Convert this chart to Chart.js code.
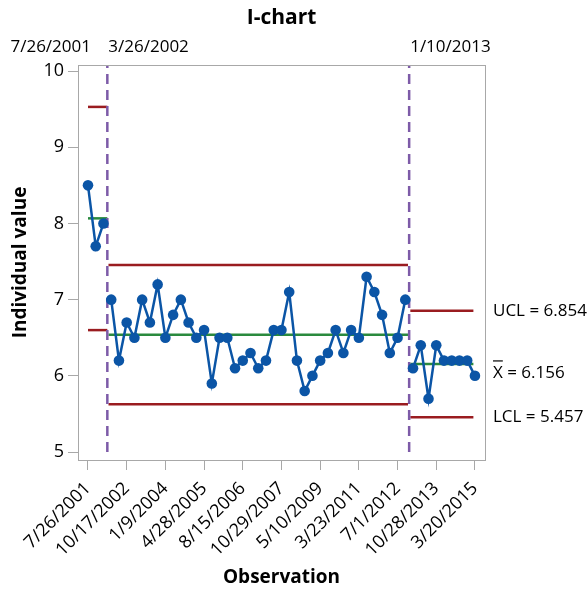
<!DOCTYPE html>
<html>
<head>
<meta charset="utf-8">
<title>I-chart</title>
<script src="https://cdn.jsdelivr.net/npm/chart.js"></script>
<style>
  html, body { margin: 0; padding: 0; background: #fff; }
  #wrap { width: 588px; height: 589px; }
</style>
</head>
<body>
<div id="wrap"><canvas id="ichart"></canvas></div>
<script>
// individual observations, in order
const values = [
  8.5, 7.7, 8.0,
  7.0, 6.2, 6.7, 6.5, 7.0, 6.7, 7.2, 6.5, 6.8, 7.0, 6.7, 6.5, 6.6, 5.9, 6.5, 6.5, 6.1, 6.2,
  6.3, 6.1, 6.2, 6.6, 6.6, 7.1, 6.2, 5.8, 6.0, 6.2, 6.3, 6.6, 6.3, 6.6, 6.5, 7.3, 7.1, 6.8, 6.3, 6.5, 7.0,
  6.1, 6.4, 5.7, 6.4, 6.2, 6.2, 6.2, 6.2, 6.0
];
// date label shown at every 5th observation
const dateLabels = ["7/26/2001", "10/17/2002", "1/9/2004", "4/28/2005", "8/15/2006", "10/29/2007",
  "5/10/2009", "3/23/2011", "7/1/2012", "10/28/2013", "3/20/2015"];
const labelStep = 5;
// phases (first observation index of each phase)
const phaseStart = [0, 3, 42];
const phaseDates = ["7/26/2001", "3/26/2002", "1/10/2013"];
const ucl = [9.53, 7.454, 6.854];
const cl = [8.067, 6.538, 6.156];
const lcl = [6.60, 5.626, 5.457];
const yTicks = [5, 6, 7, 8, 9, 10];

const BLUE = "#0b55a6", GREEN = "#2a8a3e", RED = "#9a1c20", PURPLE = "#7d5ba8", GRAY = "#a8a8a8";
const FONT = "'Open Sans', 'Noto Sans', sans-serif";
const X_MIN = -1.29, X_MAX = 51.3, Y_MIN = 4.895, Y_MAX = 10.08;

const last = values.length - 1;
const datasets = [];

phaseStart.forEach((s, k) => {
  const end = k < phaseStart.length - 1 ? phaseStart[k + 1] : values.length;
  // control limit segments
  const x0 = k === 0 ? 0 : s - 0.5 + 0.15;
  const x1 = k < phaseStart.length - 1 ? end - 0.5 - (k === 0 ? 0 : 0.15) : last - 0.2;
  [[ucl[k], RED], [lcl[k], RED], [cl[k], GREEN]].forEach(([v, c]) => {
    datasets.push({
      data: [{ x: x0, y: v }, { x: x1, y: v }],
      borderColor: c, borderWidth: 2.5, pointRadius: 0, order: 3
    });
  });
  // observations of this phase (line not joined across phases)
  datasets.push({
    data: values.slice(s, end).map((v, j) => ({ x: s + j, y: v })),
    borderColor: BLUE, backgroundColor: BLUE, borderWidth: 2.5,
    pointRadius: 5.3, pointBorderWidth: 0, order: 1
  });
});

// phase boundaries (dashed)
phaseStart.slice(1).forEach(s => {
  datasets.push({
    data: [{ x: s - 0.5, y: 5 }, { x: s - 0.5, y: Y_MAX }],
    borderColor: PURPLE, borderWidth: 2.5, borderDash: [10, 6], pointRadius: 0, order: 2
  });
});

const extras = {
  id: "extras",
  afterDraw(chart) {
    const { ctx, chartArea: a, scales: { x, y } } = chart;
    ctx.save();
    ctx.strokeStyle = GRAY;
    ctx.lineWidth = 1;
    ctx.strokeRect(a.left + 0.5, a.top + 0.5, a.right - a.left, a.bottom - a.top);

    ctx.fillStyle = "#000";
    ctx.font = "bold 21px " + FONT;
    ctx.textAlign = "center";
    ctx.textBaseline = "middle";
    ctx.fillText("I-chart", (a.left + a.right) / 2, 18);

    ctx.font = "17px " + FONT;
    phaseDates.forEach((d, k) => {
      if (k === 0) {
        ctx.textAlign = "right";
        ctx.fillText(d, x.getPixelForValue(0) + 3, 47);
      } else {
        ctx.textAlign = "left";
        ctx.fillText(d, x.getPixelForValue(phaseStart[k] - 0.5) + 1, 47);
      }
    });

    const k = phaseStart.length - 1;
    const lx = a.right + 8;
    ctx.textAlign = "left";
    ctx.fillText("UCL = " + ucl[k].toFixed(3), lx, y.getPixelForValue(ucl[k]));
    ctx.fillText("LCL = " + lcl[k].toFixed(3), lx, y.getPixelForValue(lcl[k]));
    const cy = y.getPixelForValue(cl[k]) + 9;
    ctx.fillText("X = " + cl[k].toFixed(3), lx, cy);
    const xw = ctx.measureText("X").width;
    ctx.strokeStyle = "#000";
    ctx.lineWidth = 1.2;
    ctx.beginPath();
    ctx.moveTo(lx, cy - 12);
    ctx.lineTo(lx + xw, cy - 12);
    ctx.stroke();
    ctx.restore();
  }
};

new Chart(document.getElementById("ichart"), {
  type: "line",
  data: { datasets },
  options: {
    responsive: true,
    maintainAspectRatio: false,
    animation: false,
    layout: { padding: { top: 65, right: 103, left: 0, bottom: 0 } },
    plugins: { legend: { display: false }, tooltip: { enabled: false } },
    scales: {
      x: {
        type: "linear", min: X_MIN, max: X_MAX,
        afterBuildTicks: s => { s.ticks = dateLabels.map((_, k) => ({ value: k * labelStep })); },
        afterFit: s => { s.height = 129; },
        ticks: {
          autoSkip: false, minRotation: 45, maxRotation: 45, color: "#000", padding: 8,
          font: { family: FONT, size: 18 },
          callback: (v, i) => dateLabels[i]
        },
        grid: { drawOnChartArea: false, tickLength: 10, color: GRAY },
        border: { color: GRAY },
        title: { display: true, text: "Observation", color: "#000", padding: 0,
          font: { family: FONT, size: 19, weight: "bold" } }
      },
      y: {
        min: Y_MIN, max: Y_MAX,
        afterBuildTicks: s => { s.ticks = yTicks.map(v => ({ value: v })); },
        afterFit: s => { s.width = 78; },
        ticks: { color: "#000", font: { family: FONT, size: 18 }, padding: 4 },
        grid: { drawOnChartArea: false, tickLength: 10, color: GRAY },
        border: { color: GRAY },
        title: { display: true, text: "Individual value", color: "#000", padding: { top: 9 },
          font: { family: FONT, size: 19, weight: "bold" } }
      }
    }
  },
  plugins: [extras]
});
</script>
</body>
</html>
